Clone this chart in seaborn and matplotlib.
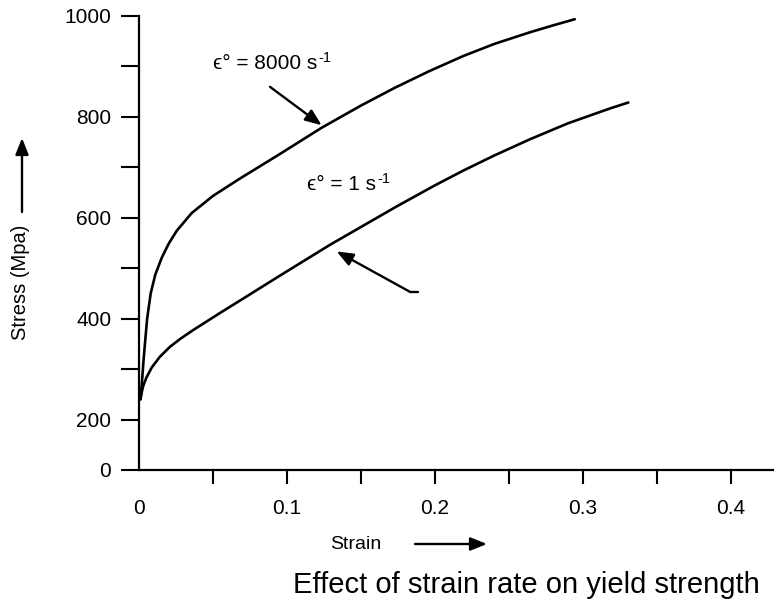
import numpy as np
import matplotlib
matplotlib.use("Agg")
import matplotlib.pyplot as plt
import pandas as pd
import seaborn as sns

# values (strain, stress in MPa)
fast_strain = [0.001, 0.002, 0.003, 0.004, 0.0055, 0.0079, 0.011, 0.0153, 0.02, 0.0255,
               0.0356, 0.05, 0.068, 0.0952, 0.1234, 0.15, 0.1727, 0.196, 0.219, 0.24,
               0.264, 0.28, 0.2944]
fast_stress = [240, 275, 315, 350, 400, 450, 487, 520, 548, 574,
               609, 643, 677, 726, 778, 822, 857, 890, 920, 944,
               967, 981, 993]

slow_strain = [0.001, 0.002, 0.003, 0.005, 0.0086, 0.014, 0.0209, 0.028, 0.0365, 0.0547,
               0.075, 0.0952, 0.129, 0.174, 0.2, 0.219, 0.24, 0.264, 0.29, 0.318, 0.3306]
slow_stress = [240, 256, 268, 283, 303, 324, 344, 360, 377, 411,
               448, 485, 546, 622, 664, 693, 723, 755, 787, 816, 828]

rate_values = ["8000", "1"]
y_major = [0, 200, 400, 600, 800, 1000]
y_minor = [300, 500, 700, 900]
x_major = [0, 0.1, 0.2, 0.3, 0.4]
x_minor = [0.05, 0.15, 0.25, 0.35]
x_labels = ["0", "0.1", "0.2", "0.3", "0.4"]

sns.set_theme(style="ticks")
plt.rcParams["font.family"] = ["Liberation Sans", "DejaVu Sans"]
plt.rcParams.update({"text.color": "black", "axes.labelcolor": "black",
                     "xtick.color": "black", "ytick.color": "black"})

df = pd.concat([
    pd.DataFrame({"strain": fast_strain, "stress": fast_stress, "rate": rate_values[0]}),
    pd.DataFrame({"strain": slow_strain, "stress": slow_stress, "rate": rate_values[1]}),
])

fig = plt.figure(figsize=(7.74, 6.03), dpi=100)
ax = fig.add_axes([0.1796, 0.2206, 0.8204, 0.7534])


# the 0-200 band of the stress axis is squeezed to half height
def fwd(y):
    y = np.asarray(y, dtype=float)
    return np.where(y < 200, y / 2, y - 100)


def inv(t):
    t = np.asarray(t, dtype=float)
    return np.where(t < 100, t * 2, t + 100)


ax.set_yscale("function", functions=(fwd, inv))

sns.lineplot(data=df, x="strain", y="stress", units="rate", estimator=None, sort=False,
             color="black", linewidth=1.9, ax=ax, legend=False)

ax.set_xlim(0, 0.429)
ax.set_ylim(0, 1000)

ax.set_yticks(y_major)
ax.set_yticks(y_minor, minor=True)
ax.set_yticklabels([str(v) for v in y_major])
ax.set_xticks(x_major)
ax.set_xticks(x_minor, minor=True)
ax.set_xticklabels(x_labels)
ax.xaxis.get_major_ticks()[0].tick1line.set_visible(False)

ax.tick_params(axis="y", which="both", direction="out", length=13, width=1.5,
               labelsize=15, pad=7, color="black", labelcolor="black")
ax.tick_params(axis="x", which="both", direction="out", length=10, width=1.5,
               labelsize=15, pad=11, color="black", labelcolor="black")
ax.yaxis.set_minor_formatter(matplotlib.ticker.NullFormatter())

for side in ["top", "right"]:
    ax.spines[side].set_visible(False)
for side in ["left", "bottom"]:
    ax.spines[side].set_linewidth(1.6)
    ax.spines[side].set_color("black")

arrow_kw = dict(arrowstyle="-|>,head_length=0.55,head_width=0.22", color="black",
                lw=1.7, mutation_scale=18, shrinkA=0, shrinkB=0)


def rate_label(x, y, value):
    t = ax.text(x, y, "ϵ° = " + value + " s", ha="left", va="center", fontsize=15)
    ax.annotate("-1", xy=(1, 1), xycoords=t, xytext=(1, -3), textcoords="offset points",
                ha="left", va="center", fontsize=10.5)


# curve labels with pointer arrows
rate_label(0.050, 906, rate_values[0])
ax.annotate("", xy=(0.1234, 783), xytext=(0.0885, 859), arrowprops=arrow_kw)
rate_label(0.1134, 665, rate_values[1])
ax.annotate("", xy=(0.1335, 533), xytext=(0.183, 453), arrowprops=arrow_kw)
ax.plot([0.183, 0.1886], [453, 453], color="black", lw=1.7)

# axis titles with direction arrows
ax.set_xlabel("Strain", fontsize=14)
ax.xaxis.set_label_coords(0.341, -0.163)
ax.xaxis.label.set_va("center")
ax.set_ylabel("Stress (Mpa)", fontsize=14.5)
ax.yaxis.set_label_coords(-0.186, 0.414)
ax.yaxis.label.set_va("center")

ax.annotate("", xy=(487 / 774, 1 - 544 / 603), xytext=(415 / 774, 1 - 544 / 603),
            xycoords="figure fraction", textcoords="figure fraction", arrowprops=arrow_kw)
ax.annotate("", xy=(22 / 774, 1 - 138 / 603), xytext=(22 / 774, 1 - 212 / 603),
            xycoords="figure fraction", textcoords="figure fraction", arrowprops=arrow_kw)

fig.suptitle("Effect of strain rate on yield strength", x=526.5 / 774, y=1 - 585 / 603,
             va="center", ha="center", fontsize=21)

fig.savefig("out.png", dpi=100, facecolor="white")
